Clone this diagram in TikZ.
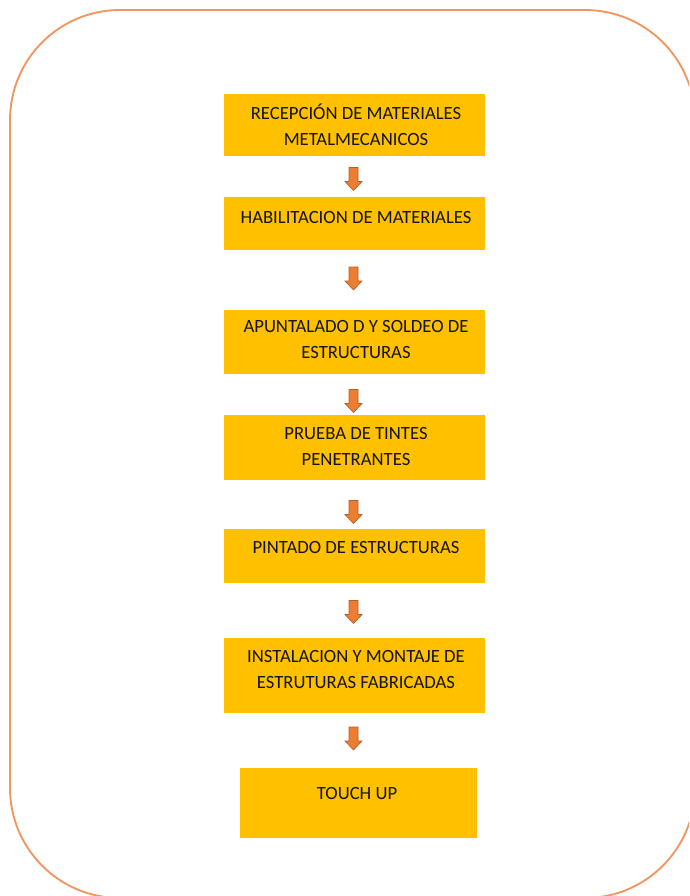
\documentclass[tikz,border=0pt]{standalone}
\usepackage{fontspec}
\setmainfont{Carlito}
\definecolor{boxfill}{HTML}{FFC000}
\definecolor{frameline}{RGB}{241,150,95}
\definecolor{arrowfill}{HTML}{ED7D31}
\definecolor{arrowline}{HTML}{B5602A}
\newcommand\dnarrow[1]{%
  \draw[blockarrow] (#1) ++(-3.375pt,8.625pt) -- ++(6.75pt,0pt) -- ++(0pt,-10.5pt)
    -- ++(3pt,0pt) -- ++(-6.375pt,-6.75pt) -- ++(-6.375pt,6.75pt) -- ++(3pt,0pt) -- cycle;}
\begin{document}
\begin{tikzpicture}[x=0.75pt,y=-0.75pt,
  box/.style={rectangle, fill=boxfill, draw=none, inner sep=0pt},
  lbl/.style={align=center, inner sep=0pt, text=black!92,
    font=\fontsize{14}{19.5}\selectfont},
  blockarrow/.style={fill=arrowfill, draw=arrowline, line width=0.5pt, line join=miter}]
\useasboundingbox (0,0) rectangle (689,896);
\clip (0,0) rectangle (689,896);
\draw[frameline, line width=1.4pt, rounded corners=82.5pt] (10,10) rectangle (695,898);

\node[box, minimum width=195.75pt, minimum height=46.5pt] (b1) at (354.5,125) {};
\node[box, minimum width=195.75pt, minimum height=39.75pt] (b2) at (354.5,223.5) {};
\node[box, minimum width=195.75pt, minimum height=48pt] (b3) at (354.5,342) {};
\node[box, minimum width=195.75pt, minimum height=48.75pt] (b4) at (354.5,447.5) {};
\node[box, minimum width=195.75pt, minimum height=40.5pt] (b5) at (354.5,556) {};
\node[box, minimum width=195.75pt, minimum height=56.25pt] (b6) at (354.5,675.5) {};
\node[box, minimum width=177.75pt, minimum height=52.5pt] (b7) at (358.5,803) {};

\node[lbl] (t1) at (356,125) {RECEPCIÓN DE MATERIALES\\METALMECANICOS};
\node[lbl] (t2) at (356,218) {HABILITACION DE MATERIALES};
\node[lbl] (t3) at (356,340) {APUNTALADO D Y SOLDEO DE\\ESTRUCTURAS};
\node[lbl] (t4) at (356,446.5) {PRUEBA DE TINTES\\PENETRANTES};
\node[lbl] (t5) at (356,548) {PINTADO DE ESTRUCTURAS};
\node[lbl] (t6) at (356,670) {INSTALACION Y MONTAJE DE\\ESTRUTURAS FABRICADAS};
\node[lbl] (t7) at (357,794) {TOUCH UP};

\coordinate (a1) at (353.5,179);
\coordinate (a2) at (353.5,278.5);
\coordinate (a3) at (353.5,401);
\coordinate (a4) at (353.5,512);
\coordinate (a5) at (353.5,612);
\coordinate (a6) at (353.5,738.5);
\dnarrow{a1}
\dnarrow{a2}
\dnarrow{a3}
\dnarrow{a4}
\dnarrow{a5}
\dnarrow{a6}
\end{tikzpicture}
\end{document}
